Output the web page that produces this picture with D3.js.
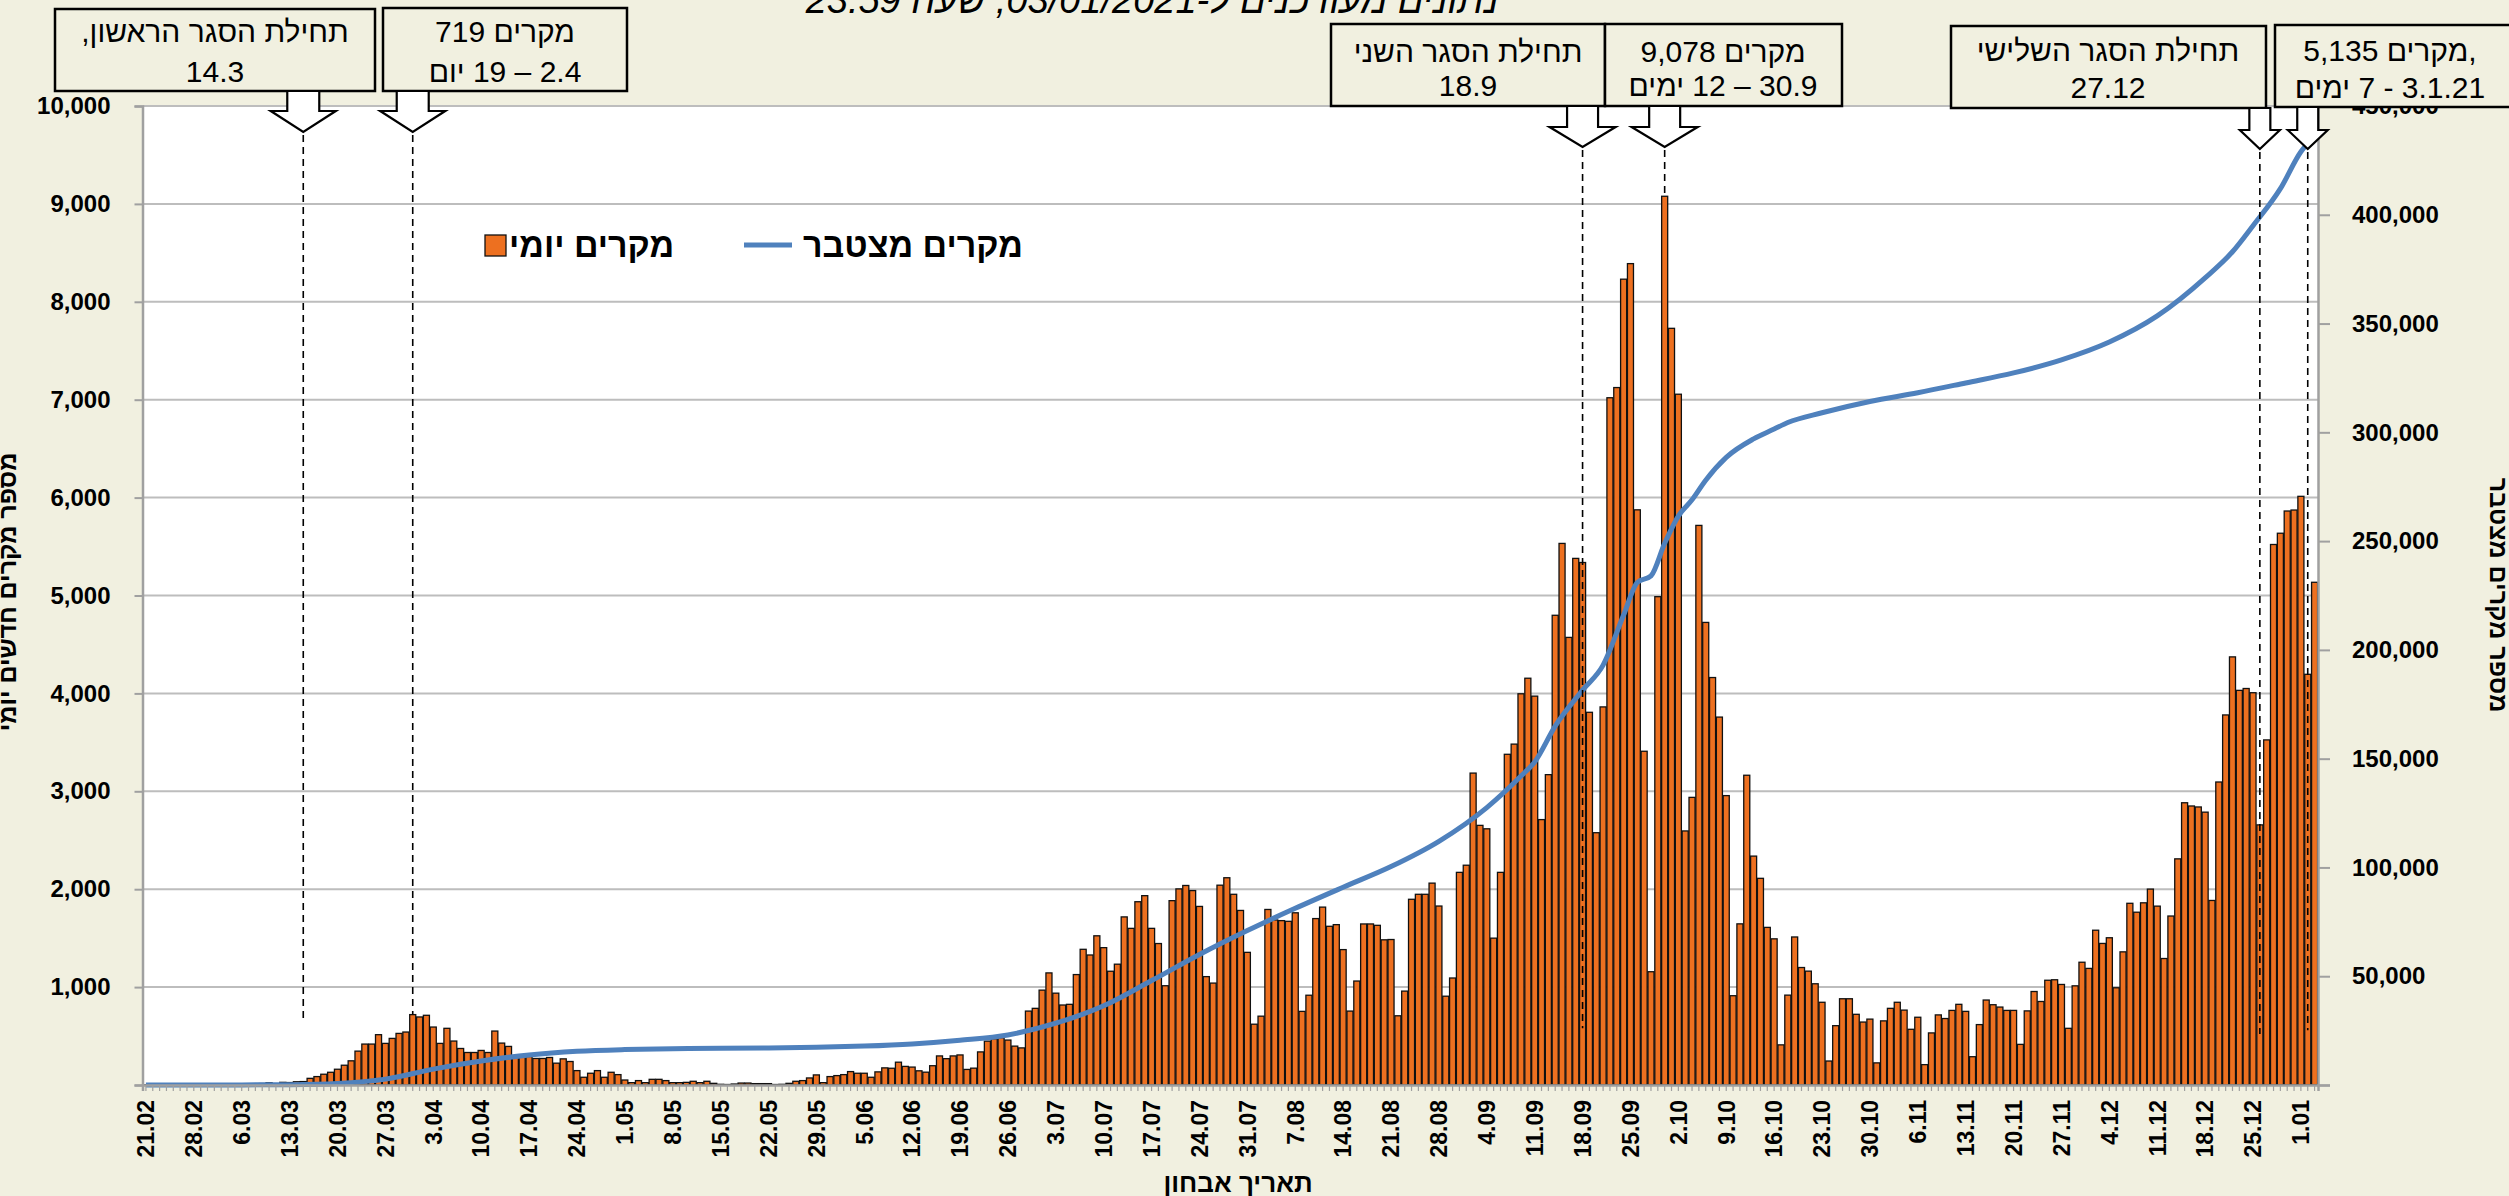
<!DOCTYPE html>
<html lang="he">
<head>
<meta charset="utf-8">
<script src="https://d3js.org/d3.v7.min.js"></script>
<style>
  html, body { margin: 0; padding: 0; background: #f1f0e0; }
  svg { display: block; }
  text { font-family: "Liberation Sans", Arial, "DejaVu Sans", sans-serif; }
</style>
</head>
<body>
<script>
// daily new cases, 21.02.2020 - 03.01.2021 (one value per day)
var daily = [
  1,0,0,0,0,0,1,1,2,3,2,3,5,4,5,8,12,15,24,12,27,25,33,35,
  68,86,110,130,161,202,247,346,418,418,514,425,476,527,541,719,
  695,712,592,425,579,449,373,332,332,353,332,551,428,394,298,291,291,271,271,281,223,267,240,
  147,79,120,147,79,130,106,51,24,45,24,58,58,45,24,24,27,38,24,38,
  17,7,5,10,20,20,14,14,14,5,7,17,38,45,72,103,24,86,96,106,137,120,120,79,134,175,171,233,
  190,183,145,131,197,297,269,297,307,159,
  172,338,448,472,483,459,397,379,755,783,
  969,1145,938,817,824,1128,1386,1328,1524,1403,
  1162,1234,1717,1600,1872,1934,1600,1445,1014,1883,
  2003,2038,1986,1824,1107,1041,2041,2117,1948,1783,
  1355,621,703,1793,1686,1679,1672,1759,752,917,
  1700,1817,1621,1638,1383,755,1062,1645,1645,1631,
  1483,1486,707,959,1897,1948,1948,2062,1828,907,
  1093,2172,2245,3186,2652,2617,1500,2172,
  3378,3482,3996,4155,3972,2711,3170,4798,5532,4572,
  5379,5337,3807,2577,3862,7020,7124,8231,8390,5875,
  3409,1157,4988,9078,7729,7056,2595,2938,5716,4725,
  4162,3758,2956,912,1646,3164,2338,2111,1610,1493,
  410,918,1512,1200,1163,1034,845,245,606,881,
  881,722,643,673,226,655,783,845,765,569,
  692,208,532,716,679,
  762,824,752,289,617,868,820,796,762,762,
  415,757,955,853,1070,1075,1027,579,1013,1254,
  1191,1581,1446,1504,993,1360,1856,1765,1861,2001,
  1827,1292,1726,2310,2883,2850,2840,2787,1885,3095,
  3780,4373,4031,4050,4007,2657,3525,5521,5636,5863,
  5873,6013,4195,5135
];

var tickLabels = ["21.02","28.02","6.03","13.03","20.03","27.03","3.04","10.04","17.04","24.04",
  "1.05","8.05","15.05","22.05","29.05","5.06","12.06","19.06","26.06","3.07","10.07","17.07",
  "24.07","31.07","7.08","14.08","21.08","28.08","4.09","11.09","18.09","25.09","2.10","9.10",
  "16.10","23.10","30.10","6.11","13.11","20.11","27.11","4.12","11.12","18.12","25.12","1.01"];

// cumulative cases at these dates
var cumulativeDates = ["21.02","28.02","6.03","13.03","20.03","27.03","3.04","10.04","17.04","24.04",
  "1.05","8.05","15.05","22.05","29.05","5.06","12.06","19.06","26.06","3.07","10.07","17.07",
  "24.07","31.07","7.08","14.08","21.08","28.08","4.09","9.09","11.09","14.09","18.09","21.09",
  "24.09","26.09","28.09","30.09","2.10","4.10","6.10","9.10","13.10","16.10","18.10","23.10",
  "30.10","6.11","13.11","20.11","27.11","4.12","11.12","18.12","22.12","25.12","29.12","1.01","3.01"];
var cumulativeValues = [0,10,30,150,700,2700,7300,11000,13800,15500,
  16300,16700,16850,17000,17300,17900,18900,20600,23000,28400,36400,48000,
  60000,71000,81200,90900,100400,112000,127500,142000,148500,165000,181500,193000,
  216000,231000,234000,249000,261500,269000,278000,288500,297000,301500,304500,309000,
  314200,318200,322700,327300,333300,341500,353500,371000,383000,395000,412000,429000,436000];

var leftTicks = [0,1000,2000,3000,4000,5000,6000,7000,8000,9000,10000];
var rightTicks = [0,50000,100000,150000,200000,250000,300000,350000,400000,450000];

var noteDates = ["15.03","31.03","18.09","30.09","26.12","2.01"];
var noteLines = [
  ["תחילת הסגר הראשון,", "14.3"],
  ["719 מקרים", "2.4 – 19 יום"],
  ["תחילת הסגר השני", "18.9"],
  ["9,078 מקרים", "30.9 – 12 ימים"],
  ["תחילת הסגר השלישי", "27.12"],
  ["5,135 מקרים,", "3.1.21 - 7 ימים"]
];
// where the dashed guide stops (daily cases); null = top of that day's bar
var noteStop = [650, null, 580, null, 520, 560];

var titleText = "נתונים מעודכנים ל-03/01/2021, שעה 23:59";

// ---------- layout ----------
var W = 2509, H = 1196;
var L = 142.5, R = 2318, T = 106, B = 1085;

var svg = d3.select("body").append("svg")
  .attr("width", W).attr("height", H);

svg.append("rect").attr("width", W).attr("height", H).attr("fill", "#f1f0e0");
svg.append("rect").attr("x", L).attr("y", T).attr("width", R - L).attr("height", B - T).attr("fill", "#fff");

var fmtDay = d3.timeFormat("%-d.%m");
var days = d3.timeDay.range(new Date(2020, 1, 21), new Date(2021, 0, 4));
var byLabel = new Map(days.map(function(d) { return [fmtDay(d), d]; }));

var x = d3.scaleBand().domain(days).range([L, R]).padding(0);
var bw = x.bandwidth();
var yL = d3.scaleLinear().domain([0, 10000]).range([B, T]);
var yR = d3.scaleLinear().domain([0, 450000]).range([B, T]);
function cx(label) { return x(byLabel.get(label)) + bw / 2; }

// gridlines
svg.append("g").selectAll("line").data(leftTicks.slice(1)).enter().append("line")
  .attr("x1", L).attr("x2", R)
  .attr("y1", function(d) { return yL(d); }).attr("y2", function(d) { return yL(d); })
  .attr("stroke", "#bdbdbd").attr("stroke-width", 2);

// bars
svg.append("g").selectAll("rect").data(daily).enter().append("rect")
  .attr("x", function(d, i) { return x(days[i]) + 0.4; })
  .attr("width", bw - 0.8)
  .attr("y", function(d) { return yL(d); })
  .attr("height", function(d) { return B - yL(d); })
  .attr("fill", "#ed7020")
  .attr("stroke", "#111").attr("stroke-width", 1.3);

// cumulative line
var cum = cumulativeDates.map(function(l, i) { return { d: l, v: cumulativeValues[i] }; });
svg.append("path").datum(cum)
  .attr("fill", "none").attr("stroke", "#4f81bd").attr("stroke-width", 5)
  .attr("stroke-linejoin", "round")
  .attr("d", d3.line()
    .x(function(p) { return cx(p.d); })
    .y(function(p) { return yR(p.v); })
    .curve(d3.curveMonotoneX));

// axes
var axisFont = '"DejaVu Sans", Verdana, sans-serif';
var gL = svg.append("g").attr("transform", "translate(" + L + ",0)")
  .call(d3.axisLeft(yL).tickValues(leftTicks).tickSize(8).tickPadding(24)
    .tickFormat(function(d) { return d ? d3.format(",")(d) : ""; }));
var gR = svg.append("g").attr("transform", "translate(" + R + ",0)")
  .call(d3.axisRight(yR).tickValues(rightTicks).tickSize(12).tickPadding(22)
    .tickFormat(function(d) { return d ? d3.format(",")(d) : ""; }));
[gL, gR].forEach(function(g) {
  g.select(".domain").attr("stroke", "#a0a0a0").attr("stroke-width", 2.5);
  g.selectAll(".tick line").attr("stroke", "#a0a0a0").attr("stroke-width", 2);
  g.selectAll(".tick text").attr("font-family", axisFont).attr("font-weight", "bold")
    .attr("font-size", 24).attr("fill", "#000");
});

var labelSet = new Set(tickLabels);
var gX = svg.append("g").attr("transform", "translate(0," + B + ")")
  .call(d3.axisBottom(x).tickValues(days).tickSize(6).tickPadding(0)
    .tickFormat(function(d) { var s = fmtDay(d); return labelSet.has(s) ? s : ""; }));
gX.select(".domain").attr("stroke", "#a0a0a0").attr("stroke-width", 2.5);
gX.selectAll(".tick line").attr("stroke", "#a0a0a0").attr("stroke-width", 1.2);
gX.selectAll(".tick text")
  .attr("transform", "rotate(-90)")
  .attr("text-anchor", "end")
  .attr("x", -15).attr("y", 0).attr("dy", "0.36em")
  .attr("font-family", '"Liberation Sans", Arial, sans-serif')
  .attr("font-weight", "bold").attr("font-size", 23).attr("fill", "#000");

// axis titles
svg.append("text").attr("transform", "translate(16,592) rotate(-90)")
  .attr("text-anchor", "middle").attr("direction", "rtl")
  .attr("font-weight", "bold").attr("font-size", 25).text("מספר מקרים חדשים יומי");
svg.append("text").attr("transform", "translate(2490,595) rotate(90)")
  .attr("text-anchor", "middle").attr("direction", "rtl")
  .attr("font-weight", "bold").attr("font-size", 25).text("מספר מקרים מצטבר");
svg.append("text").attr("x", 1238).attr("y", 1192)
  .attr("text-anchor", "middle").attr("direction", "rtl")
  .attr("font-weight", "bold").attr("font-size", 26).text("תאריך אבחון");

// title (cut off by the top edge)
svg.append("text").attr("x", 1152).attr("y", 13)
  .attr("text-anchor", "middle").attr("direction", "rtl")
  .attr("font-style", "italic").attr("font-size", 38).text(titleText);

// legend
var lg = svg.append("g");
lg.append("rect").attr("x", 485).attr("y", 235).attr("width", 21).attr("height", 21)
  .attr("fill", "#ed7020").attr("stroke", "#111").attr("stroke-width", 1.3);
lg.append("text").attr("x", 509).attr("y", 257).attr("font-weight", "bold")
  .attr("font-size", 34).text("מקרים יומי");
lg.append("line").attr("x1", 744).attr("x2", 792).attr("y1", 245).attr("y2", 245)
  .attr("stroke", "#4f81bd").attr("stroke-width", 5);
lg.append("text").attr("x", 803).attr("y", 257).attr("font-weight", "bold")
  .attr("font-size", 34).text("מקרים מצטבר");

// annotation boxes, arrows and dashed guides
var boxes = [
  { x0: 55, y0: 9, x1: 375, y1: 91, b1: 42, b2: 82, sw: 32, hw: 65, sb: 111, tip: 132 },
  { x0: 383, y0: 8, x1: 627, y1: 91, b1: 42, b2: 82, sw: 32, hw: 65, sb: 111, tip: 132 },
  { x0: 1331, y0: 24, x1: 1605, y1: 106, b1: 62, b2: 96, sw: 31, hw: 66, sb: 127, tip: 147 },
  { x0: 1605, y0: 24, x1: 1842, y1: 106, b1: 62, b2: 96, sw: 31, hw: 66, sb: 127, tip: 147 },
  { x0: 1951, y0: 26, x1: 2266, y1: 108, b1: 61, b2: 98, sw: 21, hw: 40, sb: 130, tip: 149 },
  { x0: 2275, y0: 25, x1: 2530, y1: 107, b1: 61, b2: 98, sw: 21, hw: 40, sb: 130, tip: 149 }
];
var lineDir = [["rtl","rtl"],["ltr","rtl"],["rtl","rtl"],["ltr","rtl"],["rtl","rtl"],["ltr","rtl"]];
var textCx = [215, 505, 1468, 1723, 2108, 2390];

var ann = svg.append("g");
boxes.forEach(function(b, k) {
  var ax = cx(noteDates[k]);
  var stopV = noteStop[k] === null ? daily[days.indexOf(byLabel.get(noteDates[k]))] : noteStop[k];
  ann.append("line").attr("x1", ax).attr("x2", ax).attr("y1", b.tip + 3).attr("y2", yL(stopV))
    .attr("stroke", "#000").attr("stroke-width", 1.6).attr("stroke-dasharray", "7,5");
  ann.append("rect").attr("x", b.x0).attr("y", b.y0).attr("width", b.x1 - b.x0).attr("height", b.y1 - b.y0)
    .attr("fill", "#f1f0e0").attr("stroke", "#000").attr("stroke-width", 2.5);
  var pts = [[ax - b.sw / 2, b.y1], [ax + b.sw / 2, b.y1], [ax + b.sw / 2, b.sb], [ax + b.hw / 2, b.sb],
             [ax, b.tip], [ax - b.hw / 2, b.sb], [ax - b.sw / 2, b.sb]];
  ann.append("polygon").attr("points", pts.map(function(p) { return p.join(","); }).join(" "))
    .attr("fill", "#fff").attr("stroke", "#000").attr("stroke-width", 2.2);
  [b.b1, b.b2].forEach(function(by, j) {
    ann.append("text").attr("x", textCx[k]).attr("y", by)
      .attr("text-anchor", "middle").attr("direction", lineDir[k][j])
      .attr("font-size", 30).text(noteLines[k][j]);
  });
});
</script>
</body>
</html>
